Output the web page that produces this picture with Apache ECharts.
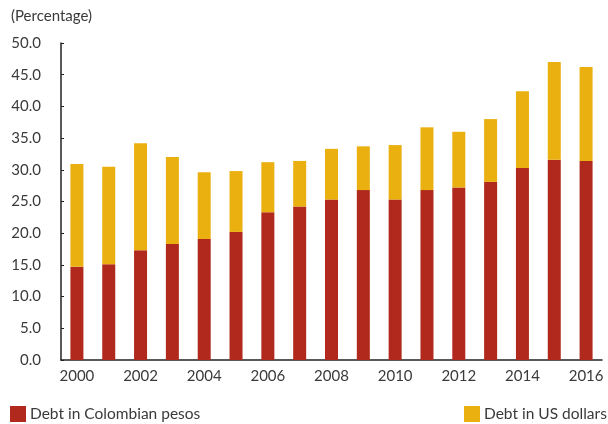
<!DOCTYPE html>
<html>
<head>
    <meta charset="utf-8">
    <title>Debt composition</title>
    <script src="https://cdn.jsdelivr.net/npm/echarts@6/dist/echarts.min.js"></script>
    <style>
        html, body { margin: 0; padding: 0; background: #fff; }
    </style>
</head>
<body>
    <div id="main" style="width:608px;height:424px"></div>
    <script type="text/javascript">
    // data
    var years = ['2000', '2001', '2002', '2003', '2004', '2005', '2006', '2007', '2008',
                 '2009', '2010', '2011', '2012', '2013', '2014', '2015', '2016'];
    var pesosDebt = [14.7, 15.1, 17.3, 18.3, 19.1, 20.2, 23.3, 24.2, 25.3,
                     26.8, 25.3, 26.8, 27.2, 28.1, 30.3, 31.6, 31.4];
    var totalDebt = [30.9, 30.5, 34.2, 32.0, 29.6, 29.8, 31.2, 31.4, 33.3,
                     33.7, 33.9, 36.7, 36.0, 38.0, 42.4, 47.0, 46.2];
    var dollarDebt = totalDebt.map(function (t, i) { return +(t - pesosDebt[i]).toFixed(1); });

    var textColor = '#3a3a3a';
    var font = 'Lato';

    var myChart = echarts.init(document.getElementById('main'));
    var option = {
        animation: false,
        textStyle: { fontFamily: font },
        title: {
            text: '(Percentage)',
            left: 6,
            top: 4,
            textStyle: { fontSize: 15, fontWeight: 'normal', color: textColor, fontFamily: font }
        },
        legend: [
            {
                data: ['Debt in Colombian pesos'],
                left: 5,
                top: 401,
                itemWidth: 16,
                itemHeight: 16,
                icon: 'rect',
                textStyle: { fontSize: 15.5, color: textColor, fontFamily: font, padding: [0, 0, 0, -1] }
            },
            {
                data: ['Debt in US dollars'],
                left: 459,
                top: 401,
                itemWidth: 16,
                itemHeight: 16,
                icon: 'rect',
                textStyle: { fontSize: 15.5, color: textColor, fontFamily: font, padding: [0, 0, 0, -1] }
            }
        ],
        grid: {
            left: 61,
            right: 6,
            top: 43,
            bottom: 64
        },
        xAxis: {
            type: 'category',
            data: years,
            axisLine: { lineStyle: { color: '#222', width: 1.5 } },
            axisTick: { inside: true, length: 4, interval: 0, lineStyle: { color: '#222' } },
            axisLabel: { interval: 1, margin: 9, fontSize: 15, color: textColor, fontFamily: font }
        },
        yAxis: {
            type: 'value',
            min: 0,
            max: 50,
            interval: 5,
            axisLine: { show: true, lineStyle: { color: '#222', width: 1.5 } },
            axisTick: { show: true, inside: true, length: 3, lineStyle: { color: '#222' } },
            splitLine: { show: false },
            axisLabel: {
                margin: 20,
                fontSize: 15,
                color: textColor,
                fontFamily: font,
                formatter: function (v) { return v.toFixed(1); }
            }
        },
        series: [
            {
                name: 'Debt in Colombian pesos',
                type: 'bar',
                stack: 'debt',
                barWidth: 13,
                itemStyle: { color: '#B0291C' },
                data: pesosDebt
            },
            {
                name: 'Debt in US dollars',
                type: 'bar',
                stack: 'debt',
                barWidth: 13,
                itemStyle: { color: '#EAB010' },
                data: dollarDebt
            }
        ]
    };
    myChart.setOption(option);
    </script>
</body>
</html>
